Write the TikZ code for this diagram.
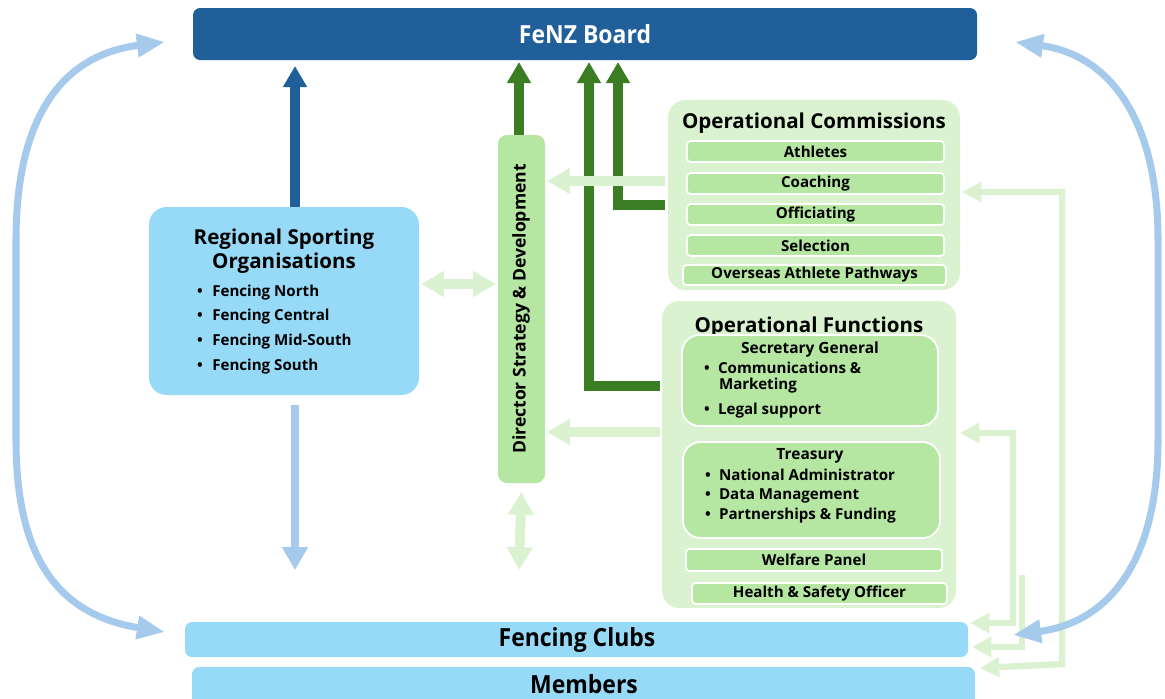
\documentclass[tikz,border=0pt]{standalone}
\usepackage{fontspec}
\setmainfont{Open Sans}
\newfontfamily\narrowfont[FakeStretch=0.92]{Open Sans}
\usetikzlibrary{arrows.meta,fit}

\definecolor{boardblue}{HTML}{215F9A}
\definecolor{skyfill}{HTML}{97DAF7}
\definecolor{curveblue}{HTML}{A6CAEC}
\definecolor{leafgreen}{HTML}{3B7D23}
\definecolor{mintfill}{HTML}{B5E6A2}
\definecolor{palegreen}{HTML}{DAF2D0}

\newcommand\dotmark{\makebox[0pt][l]{\textbullet}}

\begin{document}
\begin{tikzpicture}[x=0.02cm,y=-0.02cm,
  every node/.style={inner sep=0pt, outer sep=0pt},
  bandtext/.style={font=\narrowfont\bfseries\fontsize{14.2}{16}\selectfont},
  boardband/.style={fill=boardblue, rounded corners=4pt},
  clubband/.style={fill=skyfill, rounded corners=4pt},
  rsobox/.style={fill=skyfill, rounded corners=10pt},
  panel/.style={fill=palegreen, rounded corners=10pt},
  innerpanel/.style={fill=mintfill, draw=white, line width=1pt, rounded corners=10pt},
  strip/.style={fill=mintfill, draw=white, line width=1pt, rounded corners=2pt},
  striptext/.style={font=\bfseries\fontsize{8.6}{10}\selectfont},
  heading/.style={font=\bfseries\fontsize{11.7}{13.6}\selectfont, align=center},
  subhead/.style={font=\bfseries\fontsize{8.8}{10}\selectfont},
  item/.style={anchor=west, font=\bfseries\fontsize{8.6}{10}\selectfont},
  bluearrow/.style={draw=boardblue, line width=5.5pt, -{Triangle[width=13pt,length=12pt]}},
  downarrow/.style={draw=curveblue, line width=4.6pt, -{Triangle[width=14pt,length=13pt]}},
  greenarrow/.style={draw=leafgreen, line width=5.2pt, -{Triangle[width=13pt,length=12pt]}},
  palearrow/.style={draw=palegreen, line width=5.6pt, -{Triangle[width=14pt,length=13pt]}},
  palearrows/.style={draw=palegreen, line width=5.6pt,
    {Triangle[width=14pt,length=13pt]}-{Triangle[width=14pt,length=13pt]}},
  thinpale/.style={draw=palegreen, line width=3.6pt, -{Triangle[width=11pt,length=11pt]}},
  thinpales/.style={draw=palegreen, line width=3.6pt,
    {Triangle[width=11pt,length=11pt]}-{Triangle[width=11pt,length=11pt]}},
  loop/.style={draw=curveblue, line width=4pt,
    {Triangle[width=12.5pt,length=16pt]}-{Triangle[width=12.5pt,length=16pt]}}
]
\useasboundingbox (0,0) rectangle (1165,698);

% ---- bands: board, clubs, members
\node[boardband, fit={(193,8) (977,60)}] (board) {};
\node[bandtext, text=white] (boardT) at (board.center) {FeNZ Board};
\node[clubband, fit={(185,622) (968,657)}] (clubs) {};
\node[bandtext] (clubsT) at (577,640) {Fencing Clubs};
\node[clubband, minimum width=15.66cm, minimum height=0.8cm, anchor=north west] (members) at (192,667) {};
\node[bandtext] (membersT) at (584,684) {Members};

% ---- regional sporting organisations
\node[rsobox, fit={(149,207) (419,395)}] (rso) {};
\node[heading] (rsoT) at (284,251) {Regional Sporting\\Organisations};
\node[item] (rso1) at (197,293) {\dotmark\hspace{8.7pt}Fencing North};
\node[item] (rso2) at (197,317) {\dotmark\hspace{8.7pt}Fencing Central};
\node[item] (rso3) at (197,342) {\dotmark\hspace{8.7pt}Fencing Mid-South};
\node[item] (rso4) at (197,367) {\dotmark\hspace{8.7pt}Fencing South};

% ---- director
\node[fill=mintfill, rounded corners=5pt, fit={(498,135) (545,483)}] (dir) {};
\node[rotate=90, font=\bfseries\fontsize{10}{12}\selectfont] (dirT) at (521,309)
  {Director Strategy \& Development};

% ---- operational commissions
\node[panel, fit={(668,100) (960,290)}] (oc) {};
\node[heading] (ocT) at (814,123) {Operational Commissions};
\node[strip, fit={(687,141) (944,162)}] (athl) {};
\node[striptext] (athlT) at (athl.center) {Athletes};
\node[strip, fit={(687,173) (944,194)}] (coach) {};
\node[striptext] (coachT) at (coach.center) {Coaching};
\node[strip, fit={(687,204) (944,225)}] (offic) {};
\node[striptext] (officT) at (offic.center) {Officiating};
\node[strip, fit={(687,235) (944,256)}] (selec) {};
\node[striptext] (selecT) at (selec.center) {Selection};
\node[strip, fit={(683,265) (946,285)}] (overs) {};
\node[striptext] (oversT) at (overs.center) {Overseas Athlete Pathways};

% ---- operational functions
\node[panel, fit={(662,301) (956,608)}] (of) {};
\node[heading] (ofT) at (809,327) {Operational Functions};
\node[innerpanel, fit={(682,335) (938,426)}] (sg) {};
\node[subhead] (sgT) at (810,349) {Secretary General};
\node[item] (sg1) at (704,368) {\dotmark\hspace{8pt}Communications \&};
\node[item] (sg1b) at (719,386) {Marketing};
\node[item] (sg2) at (704,411) {\dotmark\hspace{8pt}Legal support};
\node[innerpanel, fit={(683,442) (940,538)}] (tr) {};
\node[subhead] (trT) at (810,456) {Treasury};
\node[item] (tr1) at (705,475) {\dotmark\hspace{8pt}National Administrator};
\node[item] (tr2) at (705,496) {\dotmark\hspace{8pt}Data Management};
\node[item] (tr3) at (705,516) {\dotmark\hspace{8pt}Partnerships \& Funding};
\node[strip, fit={(686,549) (942,571)}] (welf) {};
\node[striptext] (welfT) at (welf.center) {Welfare Panel};
\node[strip, fit={(692,583) (947,604)}] (hso) {};
\node[striptext] (hsoT) at (hso.center) {Health \& Safety Officer};

% ---- helper coordinates for connector routing
\coordinate (xRso) at (295,0);
\coordinate (xDir) at (519,0);
\coordinate (xFun) at (589,0);
\coordinate (xCom) at (618,0);
\coordinate (yPale1) at (0,181);
\coordinate (yCom) at (0,205);
\coordinate (yLink) at (0,284);
\coordinate (yFun) at (0,386);
\coordinate (yPale2) at (0,432);
\coordinate (rsoEnd) at (295,570);
\coordinate (dirEnd) at (519,570);
\coordinate (hsoStart) at (1022,575);

% ---- reporting lines to the board
\draw[bluearrow] (rso.north -| xRso) -- ([yshift=-0.12cm]board.south -| xRso);
\draw[downarrow] ([yshift=-0.2cm]rso.south -| xRso) -- (rsoEnd);
\draw[greenarrow] (dir.north -| xDir) -- ([yshift=-0.04cm]board.south -| xDir);
\draw[greenarrow] ([xshift=-0.04cm]of.west |- yFun) -| ([yshift=-0.04cm]board.south -| xFun);
\draw[greenarrow] ([xshift=-0.06cm]oc.west |- yCom) -| ([yshift=-0.04cm]board.south -| xCom);

% ---- links to the director
\draw[palearrow] ([xshift=-0.06cm]oc.west |- yPale1) -- ([xshift=0.04cm]dir.east |- yPale1);
\draw[palearrow] ([xshift=-0.04cm]of.west |- yPale2) -- ([xshift=0.04cm]dir.east |- yPale2);
\draw[palearrows] ([xshift=0.04cm]rso.east |- yLink) -- ([xshift=-0.04cm]dir.west |- yLink);
\draw[palearrows] ([yshift=-0.18cm]dir.south) -- (dirEnd);

% ---- links down to clubs and members
\draw[thinpales] ([xshift=0.04cm]oc.east |- 0,192) -- (1062,192) -- (1062,664)
  -- ([xshift=0.1cm,yshift=-0.02cm]members.north east);
\draw[thinpales] ([xshift=0.08cm]of.east |- 0,433) -- (1013,433) -- (1013,623)
  -- ([xshift=0.04cm]clubs.east |- 0,623);
\draw[thinpale] (hsoStart) -- (1022,647) -- ([xshift=0.08cm]clubs.east |- 0,647);

% ---- outer loops between board and clubs
\coordinate (lTop) at (165,42);
\coordinate (lBot) at (165,632);
\coordinate (rTop) at (1015,42);
\coordinate (rBot) at (1013,635);
\draw[loop] (lBot) .. controls (60,615) and (16,560) .. (16,440) -- (16,240)
  .. controls (16,120) and (60,55) .. (lTop);
\draw[loop] (rTop) .. controls (1110,55) and (1158,120) .. (1158,240) -- (1158,440)
  .. controls (1158,560) and (1110,622) .. (rBot);
\end{tikzpicture}
\end{document}
